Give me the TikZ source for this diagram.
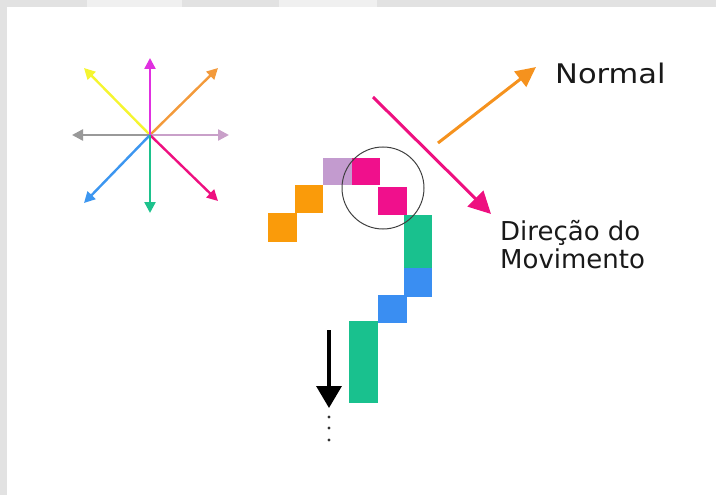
\documentclass[tikz,border=0pt]{standalone}
\usepackage{fontspec}
\setmainfont{DejaVu Sans}
\usetikzlibrary{arrows.meta}
\definecolor{bggray}{HTML}{E2E2E2}
\definecolor{bglight}{HTML}{F0F0F0}
\definecolor{cmag}{HTML}{E030E0}
\definecolor{corange}{HTML}{F39A3B}
\definecolor{cyellow}{HTML}{F5F530}
\definecolor{cgray}{HTML}{999999}
\definecolor{clilac}{HTML}{C9A0C9}
\definecolor{cblue}{HTML}{3C96F0}
\definecolor{cgreen}{HTML}{1DC28C}
\definecolor{cpink}{HTML}{EE1080}
\definecolor{sqorange}{HTML}{FA9B0A}
\definecolor{sqlilac}{HTML}{C39BCF}
\definecolor{sqpink}{HTML}{F0108C}
\definecolor{sqgreen}{HTML}{19C18E}
\definecolor{sqblue}{HTML}{3A8EF2}
\definecolor{arrorange}{HTML}{F5921E}
\begin{document}
\begin{tikzpicture}[x=1pt,y=-1pt,
  star/.style={line width=2.4pt,-{Triangle[length=11pt,width=11pt]}},
  cell/.style={draw=none,inner sep=0pt,outer sep=0pt,anchor=north west,minimum width=28pt,minimum height=28pt},
  bigarrow/.style={line width=3pt,-{Triangle[length=22pt,width=22pt]}},
  lbl/.style={inner sep=0pt,text=black!90,font=\fontsize{26}{28}\selectfont}]
\useasboundingbox (0,0) rectangle (716,495);
% frame strips
\fill[bggray] (0,0) rectangle (716,7);
\fill[bglight] (87,0) rectangle (182,7);
\fill[bglight] (279,0) rectangle (377,7);
\fill[bggray] (0,0) rectangle (7,495);
% star of directions
\coordinate (c) at (150,135);
\coordinate (sN) at (150,58);
\coordinate (sNE) at (218,68);
\coordinate (sNW) at (84,68);
\coordinate (sW) at (72,135);
\coordinate (sE) at (229,135);
\coordinate (sSW) at (84,203);
\coordinate (sS) at (150,213);
\coordinate (sSE) at (218,201);
\draw[star,cyellow] (c) -- (sNW);
\draw[star,corange] (c) -- (sNE);
\draw[star,cgray] (c) -- (sW);
\draw[star,clilac] (c) -- (sE);
\draw[star,cblue] (c) -- (sSW);
\draw[star,cpink] (c) -- (sSE);
\draw[star,cgreen] (c) -- (sS);
\draw[star,cmag] (c) -- (sN);
% chain cells
\node[cell,fill=sqorange,minimum width=29pt,minimum height=29pt] (o1) at (268,213) {};
\node[cell,fill=sqorange] (o2) at (295,185) {};
\node[cell,fill=sqlilac,minimum width=29pt,minimum height=27pt] (l1) at (323,158) {};
\node[cell,fill=sqpink,minimum height=27pt] (p1) at (352,158) {};
\node[cell,fill=sqpink,minimum width=29pt] (p2) at (378,187) {};
\node[cell,fill=sqgreen,minimum height=53pt] (g1) at (404,215) {};
\node[cell,fill=sqblue,minimum height=29pt] (b1) at (404,268) {};
\node[cell,fill=sqblue,minimum width=29pt] (b2) at (378,295) {};
\node[cell,fill=sqgreen,minimum width=29pt,minimum height=82pt] (g2) at (349,321) {};
% circle
\node[draw=black!75,line width=1pt,circle,minimum size=82pt,inner sep=0pt] (ring) at (383,188) {};
% black downward arrow with dots
\coordinate (da) at (329,330);
\coordinate (db) at (329,408);
\draw[line width=3.5pt,-{Triangle[length=22pt,width=25pt]}] (da) -- (db);
\foreach \yy in {417,428,440} \fill[black!80] (329,\yy) circle (1.6pt);
% direction and normal arrows
\coordinate (pa) at (373,97);
\coordinate (pb) at (491,214);
\draw[bigarrow,cpink] (pa) -- (pb);
\coordinate (na) at (438,143);
\coordinate (nb) at (536,67);
\draw[line width=3pt,arrorange,-{Triangle[length=20pt,width=19pt]}] (na) -- (nb);
% labels
\node[lbl,anchor=base west,font=\fontsize{27}{29}\selectfont] (normal) at (555,84) {\scalebox{1.13}[1]{Normal}};
\node[lbl,anchor=north west,align=left] (dir) at (500,220) {Direção do\\Movimento};
\end{tikzpicture}
\end{document}
